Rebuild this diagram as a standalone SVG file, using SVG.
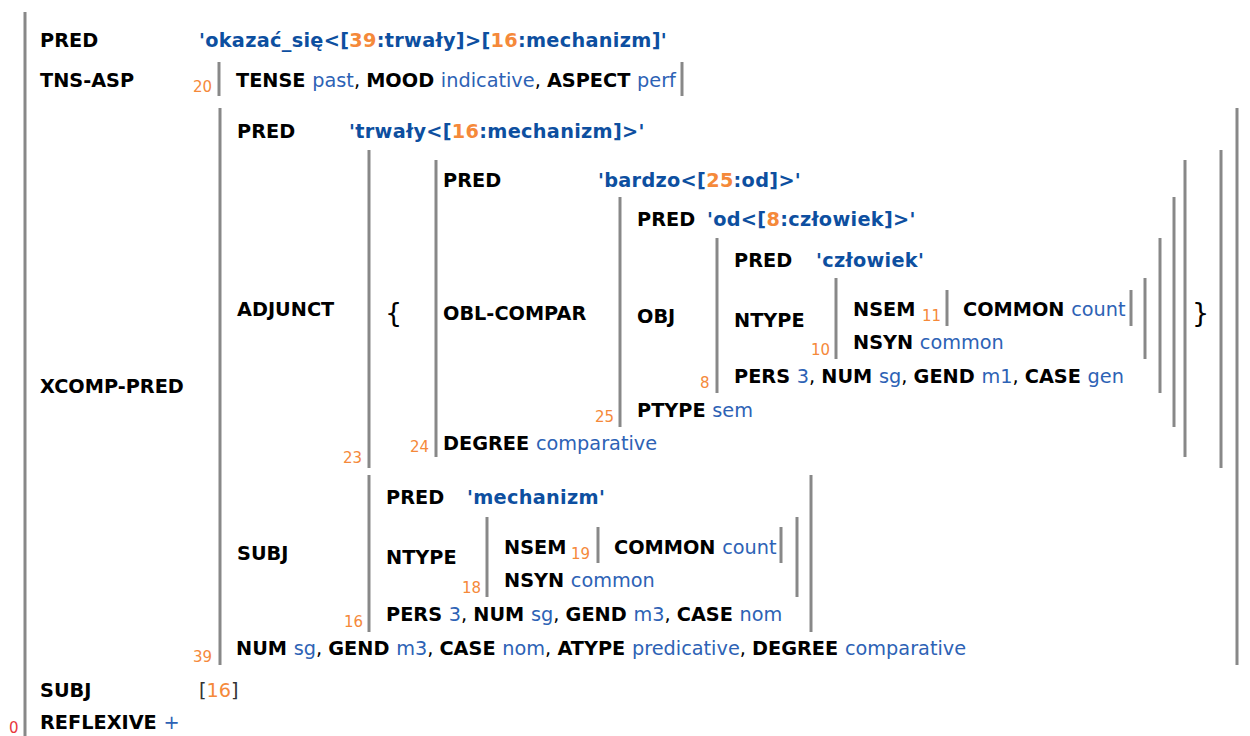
<svg xmlns="http://www.w3.org/2000/svg" width="1250" height="736" viewBox="0 0 1250 736">
<style>
text{font-family:"DejaVu Sans",Verdana,sans-serif;font-size:19.3px}
.a{font-weight:bold;fill:#000}
.v{fill:#2d62b5;font-weight:normal}
.p{fill:#0d4fa0;font-weight:bold;letter-spacing:0.3px}
.o{fill:#f5893a}
.k{fill:#000;font-weight:normal}
.n{fill:#f5893a;font-size:15px}
.z{fill:#e8383d;font-size:15px}
.br{font-size:27px;fill:#000;font-weight:normal}
.bar{stroke:#888;stroke-width:3;fill:none}
</style>
<rect width="1250" height="736" fill="#fff"/>
<g id="f0">
<line class="bar" x1="25" y1="12" x2="25" y2="736"/>
<text class="z" x="9" y="733">0</text>
<text class="a" x="40" y="47">PRED</text>
<text class="p" x="199" y="47">'okazać_się&lt;[<tspan class="o">39</tspan>:trwały]&gt;[<tspan class="o">16</tspan>:mechanizm]'</text>
<text class="a" x="40" y="87">TNS-ASP</text>
<text class="a" x="40" y="393">XCOMP-PRED</text>
<text class="a" x="40" y="697">SUBJ</text>
<text class="k" x="199" y="697"><tspan fill="#333">[</tspan><tspan class="o">16</tspan><tspan fill="#333">]</tspan></text>
<text class="a" x="40" y="729">REFLEXIVE <tspan class="v">+</tspan></text>
</g>
<g id="f20">
<line class="bar" x1="219" y1="62" x2="219" y2="96"/>
<line class="bar" x1="682" y1="62" x2="682" y2="96"/>
<text class="n" x="193" y="92">20</text>
<text class="a" x="236" y="87">TENSE <tspan class="v">past</tspan><tspan class="k">, </tspan>MOOD <tspan class="v">indicative</tspan><tspan class="k">, </tspan>ASPECT <tspan class="v">perf</tspan></text>
</g>
<g id="f39">
<line class="bar" x1="220" y1="108" x2="220" y2="665"/>
<line class="bar" x1="1237" y1="108" x2="1237" y2="665"/>
<text class="n" x="193" y="662">39</text>
<text class="a" x="237" y="138">PRED</text>
<text class="p" x="349" y="138">'trwały&lt;[<tspan class="o">16</tspan>:mechanizm]&gt;'</text>
<text class="a" x="237" y="316">ADJUNCT</text>
<text class="a" x="237" y="560">SUBJ</text>
<text class="a" x="236" y="655">NUM <tspan class="v">sg</tspan><tspan class="k">, </tspan>GEND <tspan class="v">m3</tspan><tspan class="k">, </tspan>CASE <tspan class="v">nom</tspan><tspan class="k">, </tspan>ATYPE <tspan class="v">predicative</tspan><tspan class="k">, </tspan>DEGREE <tspan class="v">comparative</tspan></text>
</g>
<g id="f23">
<line class="bar" x1="369" y1="150" x2="369" y2="468"/>
<line class="bar" x1="1221" y1="150" x2="1221" y2="468"/>
<text class="n" x="343" y="463">23</text>
<text class="br" x="385" y="322">{</text>
<text class="br" x="1192" y="322">}</text>
</g>
<g id="f24">
<line class="bar" x1="436" y1="160" x2="436" y2="457"/>
<line class="bar" x1="1185" y1="160" x2="1185" y2="457"/>
<text class="n" x="410" y="452">24</text>
<text class="a" x="443" y="187">PRED</text>
<text class="p" x="598" y="187">'bardzo&lt;[<tspan class="o">25</tspan>:od]&gt;'</text>
<text class="a" x="443" y="320">OBL-COMPAR</text>
<text class="a" x="443" y="450">DEGREE <tspan class="v">comparative</tspan></text>
</g>
<g id="f25">
<line class="bar" x1="620" y1="197" x2="620" y2="427"/>
<line class="bar" x1="1174" y1="197" x2="1174" y2="427"/>
<text class="n" x="595" y="422">25</text>
<text class="a" x="637" y="226">PRED</text>
<text class="p" x="707" y="226">'od&lt;[<tspan class="o">8</tspan>:człowiek]&gt;'</text>
<text class="a" x="637" y="323">OBJ</text>
<text class="a" x="637" y="417">PTYPE <tspan class="v">sem</tspan></text>
</g>
<g id="f8">
<line class="bar" x1="717" y1="238" x2="717" y2="393"/>
<line class="bar" x1="1160" y1="238" x2="1160" y2="393"/>
<text class="n" x="700" y="388">8</text>
<text class="a" x="734" y="267">PRED</text>
<text class="p" x="816" y="267">'człowiek'</text>
<text class="a" x="734" y="327">NTYPE</text>
<text class="a" x="734" y="383">PERS <tspan class="v">3</tspan><tspan class="k">, </tspan>NUM <tspan class="v">sg</tspan><tspan class="k">, </tspan>GEND <tspan class="v">m1</tspan><tspan class="k">, </tspan>CASE <tspan class="v">gen</tspan></text>
</g>
<g id="f10">
<line class="bar" x1="836" y1="278" x2="836" y2="359"/>
<line class="bar" x1="1145" y1="278" x2="1145" y2="359"/>
<text class="n" x="811" y="355">10</text>
<text class="a" x="853" y="316">NSEM</text>
<text class="n" x="922" y="321">11</text>
<text class="a" x="853" y="349">NSYN <tspan class="v">common</tspan></text>
</g>
<g id="f11">
<line class="bar" x1="947" y1="290" x2="947" y2="326"/>
<line class="bar" x1="1131" y1="290" x2="1131" y2="326"/>
<text class="a" x="963" y="316">COMMON <tspan class="v">count</tspan></text>
</g>
<g id="f16">
<line class="bar" x1="369" y1="475" x2="369" y2="632"/>
<line class="bar" x1="811" y1="475" x2="811" y2="632"/>
<text class="n" x="344" y="627">16</text>
<text class="a" x="386" y="504">PRED</text>
<text class="p" x="467" y="504">'mechanizm'</text>
<text class="a" x="386" y="564">NTYPE</text>
<text class="a" x="386" y="621">PERS <tspan class="v">3</tspan><tspan class="k">, </tspan>NUM <tspan class="v">sg</tspan><tspan class="k">, </tspan>GEND <tspan class="v">m3</tspan><tspan class="k">, </tspan>CASE <tspan class="v">nom</tspan></text>
</g>
<g id="f18">
<line class="bar" x1="487" y1="517" x2="487" y2="597"/>
<line class="bar" x1="797" y1="517" x2="797" y2="597"/>
<text class="n" x="462" y="593">18</text>
<text class="a" x="504" y="554">NSEM</text>
<text class="n" x="571" y="559">19</text>
<text class="a" x="504" y="587">NSYN <tspan class="v">common</tspan></text>
</g>
<g id="f19">
<line class="bar" x1="598" y1="527" x2="598" y2="563"/>
<line class="bar" x1="781" y1="527" x2="781" y2="563"/>
<text class="a" x="614" y="554">COMMON <tspan class="v">count</tspan></text>
</g>
<g id="connectors"/>
</svg>
